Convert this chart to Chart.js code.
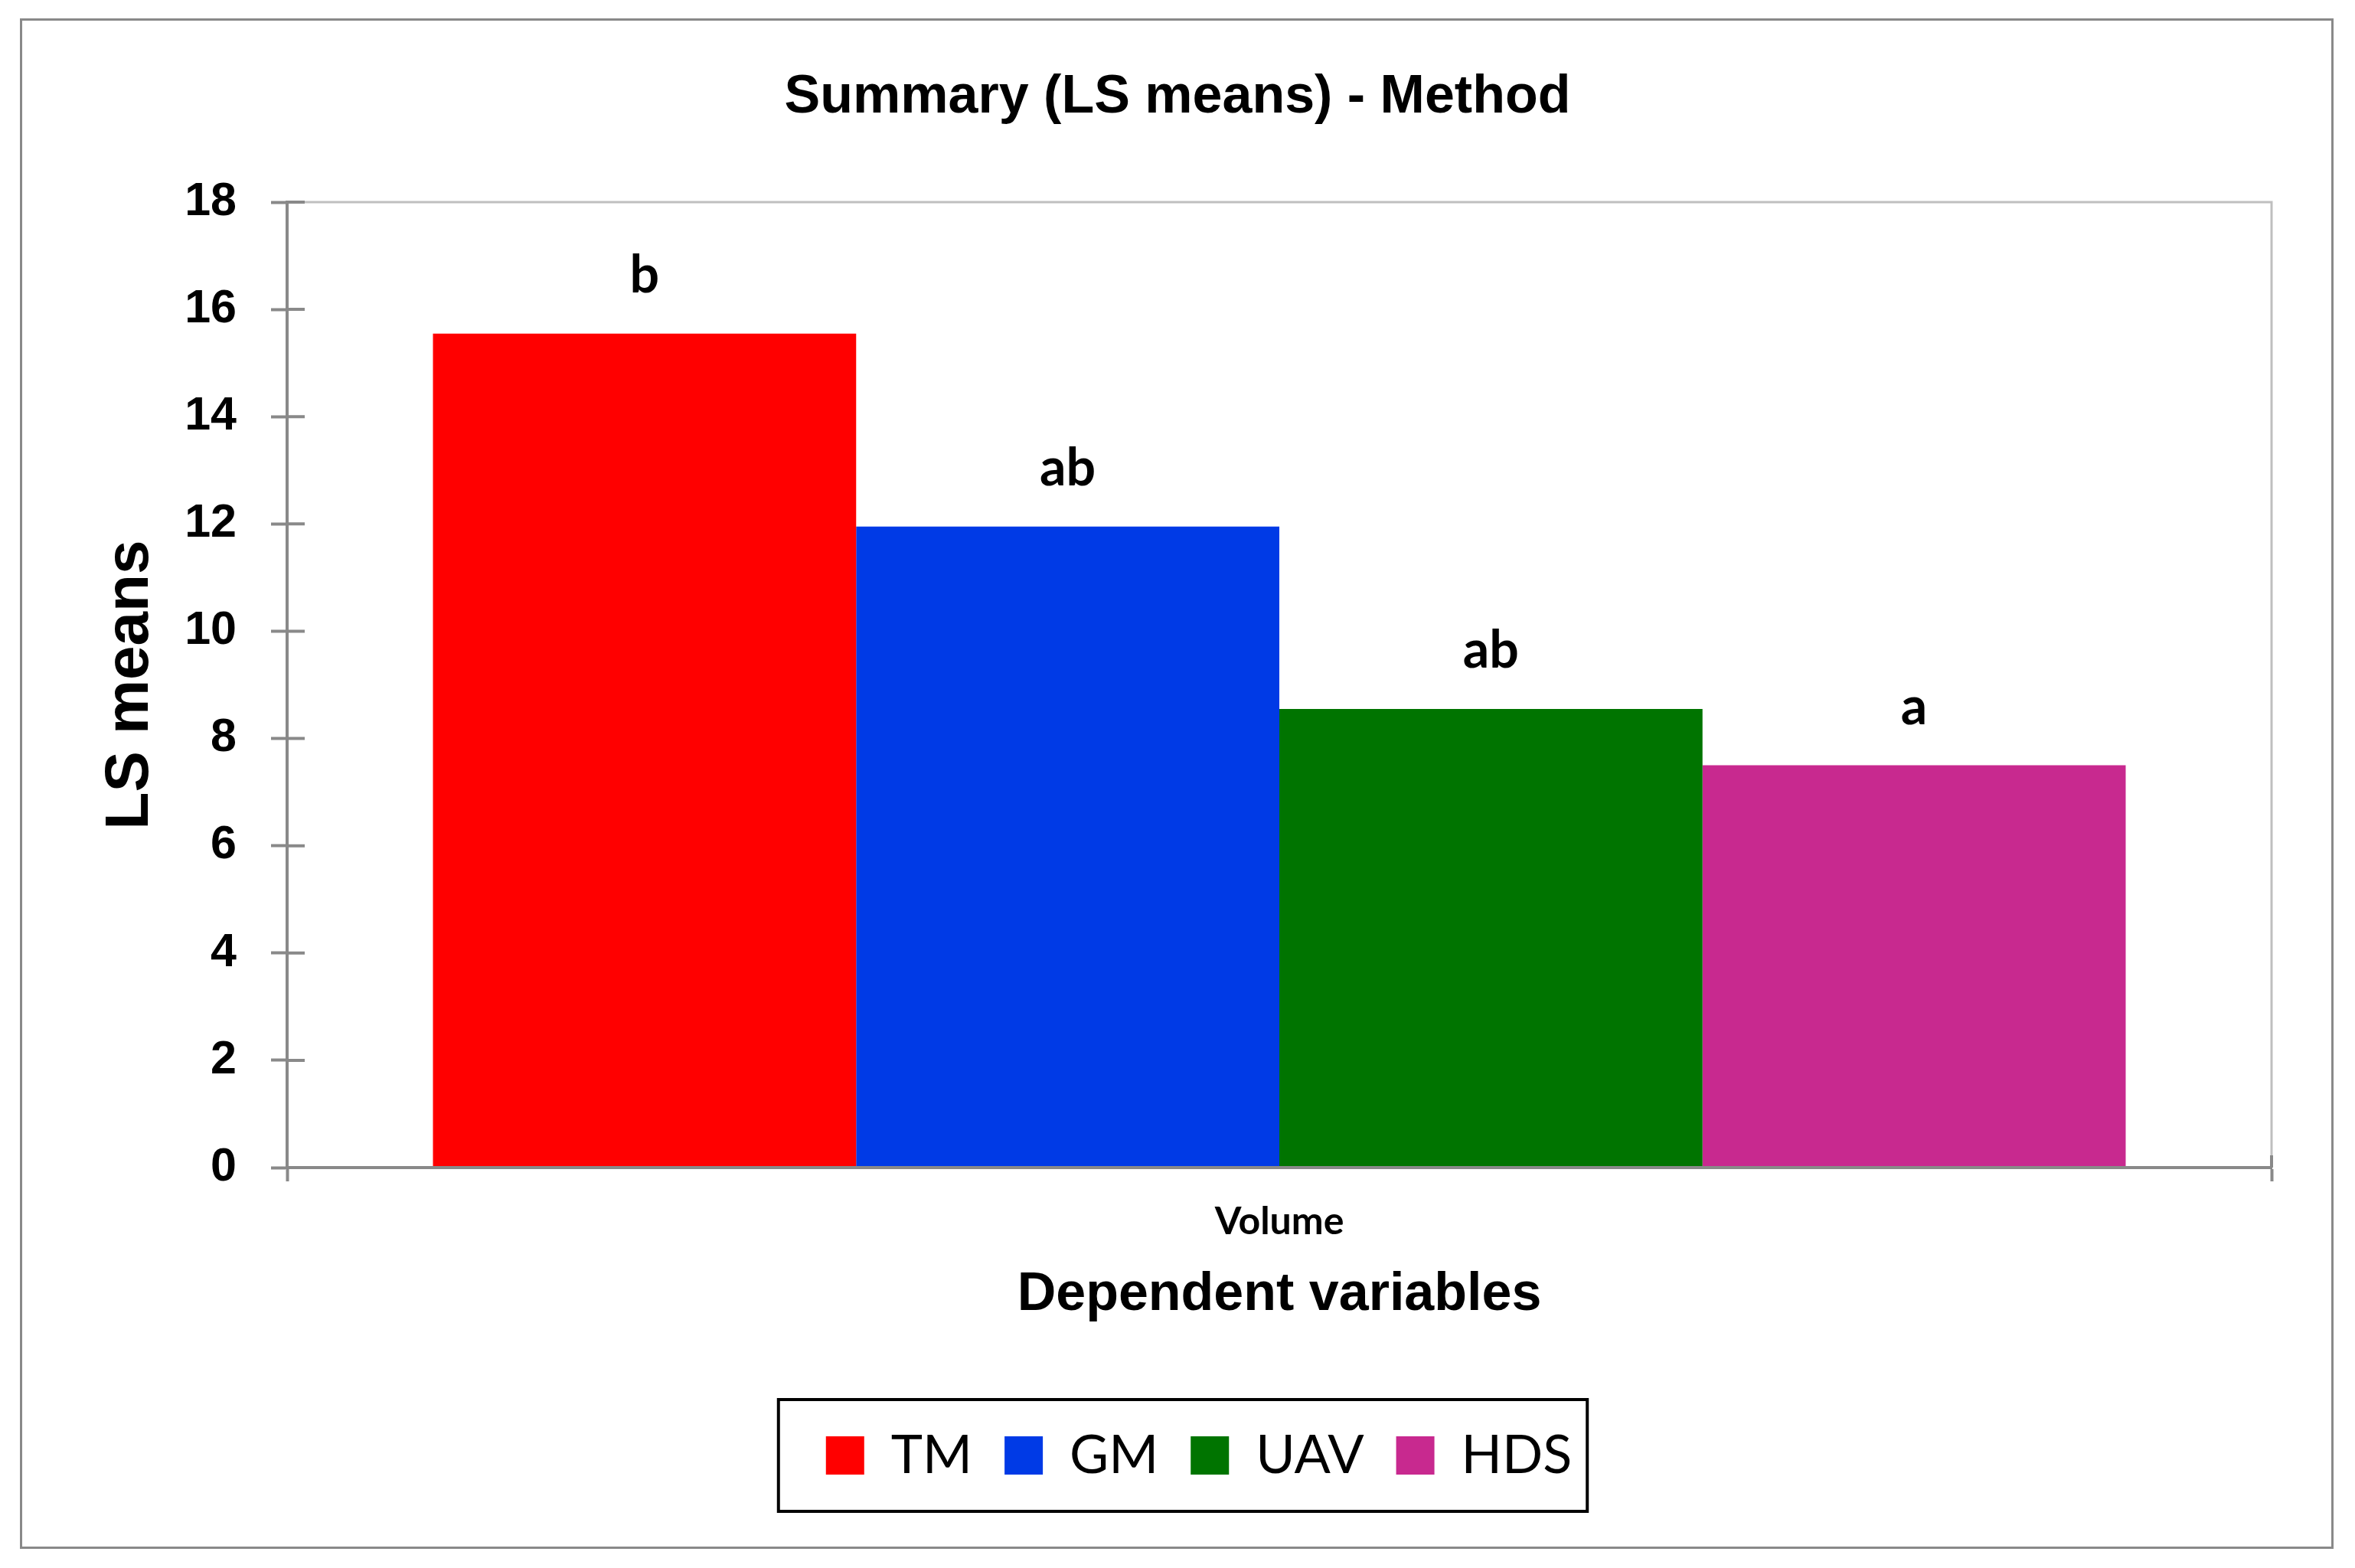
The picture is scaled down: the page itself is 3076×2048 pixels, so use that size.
<!DOCTYPE html>
<html>
<head>
  <meta charset="utf-8">
  <title>Summary (LS means) - Method</title>
  <script src="https://cdn.jsdelivr.net/npm/chart.js"></script>
  <style>
    body { margin: 0; background: #fff; }
    canvas { display: block; }
  </style>
</head>
<body>
  <canvas id="lsChart" width="3076" height="2048"></canvas>

  <script>
    // data
    const categories = ['Volume'];
    const methods = ['TM', 'GM', 'UAV', 'HDS'];
    const lsMeans = [15.55, 11.95, 8.55, 7.5];
    const groupLetters = ['b', 'ab', 'ab', 'a'];
    const yTickValues = [0, 2, 4, 6, 8, 10, 12, 14, 16, 18];

    const barColors = ['#ff0000', '#003ae6', '#007400', '#c8298f'];
    const AXIS_GREY = '#898989';
    const SANS = '"Liberation Sans", Arial, sans-serif';
    const CAL = 'Lato, "Open Sans", sans-serif';
    const LEGEND_SHIFT = 28;

    Chart.defaults.color = '#000';

    const framePlugin = {
      id: 'frame',
      afterLayout(chart) {
        // legend sits a little right of the canvas centre in the original
        const lg = chart.legend;
        lg.left += LEGEND_SHIFT;
        lg.right += LEGEND_SHIFT;
        lg.legendHitBoxes.forEach(h => { h.left += LEGEND_SHIFT; });
      },
      beforeDraw(chart) {
        const c = chart.ctx;
        c.save();
        c.fillStyle = '#fff';
        c.fillRect(0, 0, chart.width, chart.height);
        c.strokeStyle = AXIS_GREY;
        c.lineWidth = 3;
        c.strokeRect(27.5, 25.5, chart.width - 57, chart.height - 52);
        c.restore();
      },
      beforeDatasetsDraw(chart) {
        // light border on top and right of plot area
        const { ctx: c, chartArea: a } = chart;
        c.save();
        c.strokeStyle = '#bfbfbf';
        c.lineWidth = 3;
        c.beginPath();
        c.moveTo(a.left, a.top);
        c.lineTo(a.right, a.top);
        c.lineTo(a.right, a.bottom);
        c.stroke();
        c.restore();
      },
      afterDatasetsDraw(chart) {
        const c = chart.ctx;
        c.save();
        c.fillStyle = '#000';
        c.font = 'bold 68px ' + CAL;
        c.textAlign = 'center';
        c.textBaseline = 'alphabetic';
        chart.data.datasets.forEach((ds, i) => {
          const bar = chart.getDatasetMeta(i).data[0];
          c.fillText(groupLetters[i], bar.x, bar.y - 54);
        });
        c.restore();
      },
      afterDraw(chart) {
        const { ctx: c, chartArea: a } = chart;
        const y = chart.scales.y;
        c.save();
        // inner half of the cross tick marks
        c.strokeStyle = AXIS_GREY;
        c.lineWidth = 4;
        c.beginPath();
        y.ticks.forEach((t, i) => {
          const py = y.getPixelForTick(i);
          c.moveTo(a.left, py);
          c.lineTo(a.left + 23, py);
        });
        c.moveTo(a.right, a.bottom - 16);
        c.lineTo(a.right, a.bottom);
        c.stroke();

        // box around legend
        const lg = chart.legend;
        const hb = lg.legendHitBoxes;
        const last = hb[hb.length - 1];
        const left = hb[0].left - 62;
        const right = last.left + last.width + 20;
        const cy = lg.top + lg.options.labels.padding + 35;
        c.strokeStyle = '#000';
        c.lineWidth = 4;
        c.strokeRect(left, cy - 73, right - left, 146);
        c.restore();
      }
    };

    const ctx = document.getElementById('lsChart').getContext('2d');
    new Chart(ctx, {
      type: 'bar',
      data: {
        labels: categories,
        datasets: methods.map((m, i) => ({
          label: m,
          data: [lsMeans[i]],
          backgroundColor: barColors[i],
          borderWidth: 0
        }))
      },
      options: {
        responsive: false,
        animation: false,
        devicePixelRatio: 1,
        layout: { padding: { top: 30, left: 109, right: 109, bottom: 102 } },
        datasets: { bar: { categoryPercentage: 0.853, barPercentage: 1 } },
        plugins: {
          title: {
            display: true,
            text: 'Summary (LS means) - Method',
            color: '#000',
            font: { family: SANS, size: 70, weight: 'bold' },
            padding: { top: 56, bottom: 94 }
          },
          legend: {
            position: 'bottom',
            labels: {
              boxWidth: 50,
              boxHeight: 50,
              padding: 42,
              color: '#000',
              font: { family: CAL, size: 70 }
            }
          },
          tooltip: { enabled: false }
        },
        scales: {
          x: {
            grid: { drawOnChartArea: false, tickLength: 18, tickWidth: 4, tickColor: AXIS_GREY },
            border: { color: AXIS_GREY, width: 4, z: 1 },
            ticks: { color: '#000', padding: 23, font: { family: CAL, size: 50, weight: 'bold' } },
            title: {
              display: true,
              text: 'Dependent variables',
              color: '#000',
              font: { family: SANS, size: 70, weight: 'bold' },
              padding: { top: 0, bottom: 90 }
            },
            afterFit(s) { s.height = 299; }
          },
          y: {
            min: yTickValues[0],
            max: yTickValues[yTickValues.length - 1],
            afterBuildTicks(s) { s.ticks = yTickValues.map(v => ({ value: v })); },
            grid: { drawOnChartArea: false, tickLength: 21, tickWidth: 4, tickColor: AXIS_GREY },
            border: { color: AXIS_GREY, width: 4, z: 1 },
            ticks: { color: '#000', padding: 45, font: { family: SANS, size: 61, weight: 'bold' } },
            title: {
              display: true,
              text: 'LS means',
              color: '#000',
              font: { family: SANS, size: 80, weight: 'bold' },
              padding: { top: 14, bottom: 0 }
            },
            afterFit(s) { s.width = 266; }
          }
        }
      },
      plugins: [framePlugin]
    });
  </script>
</body>
</html>
